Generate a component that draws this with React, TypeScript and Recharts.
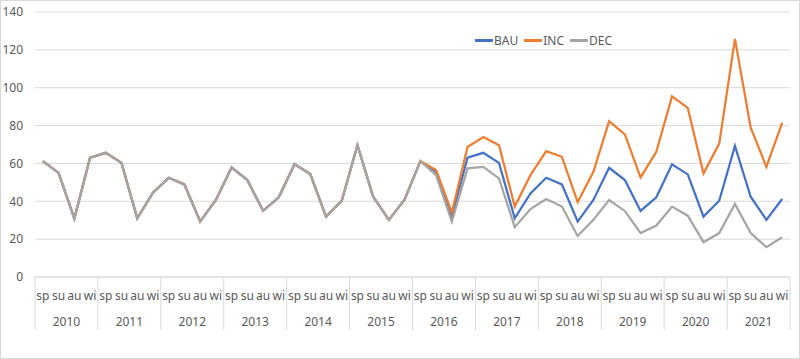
import * as React from "react";
import {
  LineChart,
  Line,
  XAxis,
  YAxis,
  CartesianGrid
} from "recharts";

const seasons = ["sp", "su", "au", "wi"];
const years = ["2010", "2011", "2012", "2013", "2014", "2015", "2016", "2017", "2018", "2019", "2020", "2021"];
const yTicks = [0, 20, 40, 60, 80, 100, 120, 140];

// 2010-2015, same for all three scenarios
const history = [
  61.2, 55, 30.8, 63,
  65.6, 60.3, 31, 44.5,
  52.4, 48.9, 29.3, 40.7,
  57.9, 51.2, 35, 42.1,
  59.6, 54.4, 31.9, 40.2,
  69.6, 42.4, 30.2, 41
];

// 2016-2021
const bauProj = [
  61.2, 55.6, 31.9, 63,
  65.6, 60.3, 31, 44.2,
  52.4, 48.9, 29.3, 40.7,
  57.7, 51.2, 34.9, 42.1,
  59.5, 54.2, 31.9, 40.3,
  69.3, 42.4, 30.2, 41.2
];
const incProj = [
  61.2, 56.5, 34, 68.7,
  74, 69.6, 37.2, 53.8,
  66.5, 63.5, 39.5, 55.6,
  82.3, 75.3, 52.6, 66.1,
  95.4, 89.3, 54.7, 70.5,
  125.8, 78.9, 58.2, 81.4
];
const decProj = [
  61.2, 53.8, 29.3, 57.4,
  58.2, 52.1, 26.3, 35.9,
  41.2, 37.2, 21.7, 30.2,
  40.7, 34.9, 23.2, 27.2,
  37.2, 32.4, 18.4, 23.2,
  38.6, 23.2, 15.8, 21
];

const series = [
  { key: "BAU", color: "#4472C4", values: history.concat(bauProj) },
  { key: "INC", color: "#ED7D31", values: history.concat(incProj) },
  { key: "DEC", color: "#A5A5A5", values: history.concat(decProj) }
];

const data = years.flatMap((year, yi) =>
  seasons.map((season, si) => {
    const i = yi * 4 + si;
    const row: Record<string, string | number> = { id: `${year}-${season}`, season, year };
    series.forEach((s) => {
      row[s.key] = s.values[i];
    });
    return row;
  })
);

const FONT = "'Noto Sans', sans-serif";
const TEXT = "#595959";
const GRID = "#d9d9d9";

const SeasonTick = (props: any) => {
  const { x, y, payload, index } = props;
  const half = payload && payload.offset ? payload.offset : 7.87;
  const row = data[index];
  const last = index === data.length - 1;
  return (
    <g>
      <text
        x={x}
        y={y + 23}
        textAnchor="middle"
        fill={TEXT}
        fontSize={12}
        fontFamily={FONT}
      >
        {row.season}
      </text>
      {index % 4 === 0 && (
        <>
          <line x1={x - half} x2={x - half} y1={y} y2={y + 53} stroke={GRID} />
          <text
            x={x + 3 * half}
            y={y + 49}
            textAnchor="middle"
            fill={TEXT}
            fontSize={12}
            fontFamily={FONT}
          >
            {row.year}
          </text>
        </>
      )}
      {last && (
        <line x1={x + half} x2={x + half} y1={y} y2={y + 53} stroke={GRID} />
      )}
    </g>
  );
};

export default function App() {
  return (
    <div
      style={{
        position: "fixed",
        left: 0,
        top: 0,
        width: 800,
        height: 359,
        boxSizing: "border-box",
        border: `1px solid ${GRID}`,
        background: "#fff",
        fontFamily: FONT
      }}
    >
      <LineChart
        width={798}
        height={357}
        data={data}
        margin={{ top: 11, right: 9, left: 0, bottom: 26 }}
      >
        <CartesianGrid vertical={false} stroke={GRID} />
        <XAxis
          dataKey="id"
          scale="band"
          interval={0}
          tickLine={false}
          tickSize={0}
          tickMargin={0}
          height={55}
          axisLine={{ stroke: GRID }}
          tick={<SeasonTick />}
        />
        <YAxis
          width={34}
          domain={[0, 140]}
          ticks={yTicks}
          axisLine={false}
          tickLine={false}
          tickMargin={6}
          tick={{ fill: TEXT, fontSize: 12, fontFamily: FONT }}
        />
        {series.map((s) => (
          <Line
            key={s.key}
            type="linear"
            dataKey={s.key}
            stroke={s.color}
            strokeWidth={2.25}
            dot={false}
            activeDot={false}
            isAnimationActive={false}
          />
        ))}
      </LineChart>

      <div
        style={{
          position: "absolute",
          left: 474,
          top: 31,
          display: "flex",
          gap: 6,
          fontSize: 12,
          color: TEXT
        }}
      >
        {series.map((s) => (
          <div key={s.key} style={{ display: "flex", alignItems: "center", gap: 1 }}>
            <span style={{ width: 18, height: 2.5, background: s.color, display: "inline-block" }} />
            {s.key}
          </div>
        ))}
      </div>
    </div>
  );
}
